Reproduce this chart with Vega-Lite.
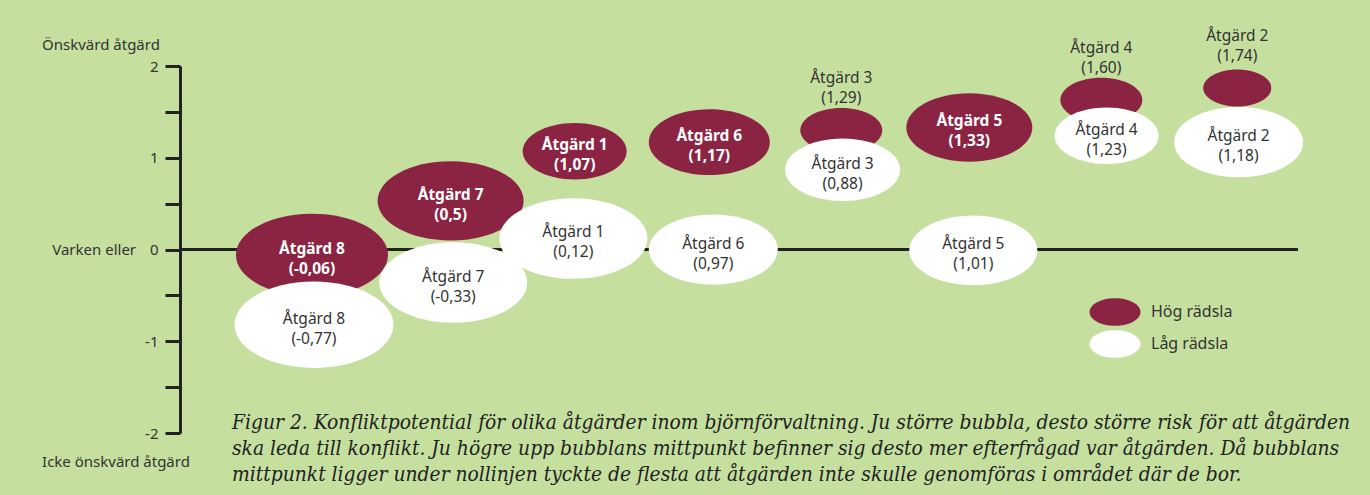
{
  "$schema": "https://vega.github.io/schema/vega-lite/v6.json",
  "width": 1118,
  "height": 367,
  "autosize": {"type": "none"},
  "padding": {"left": 180, "top": 66, "right": 72, "bottom": 62},
  "background": "#c5df9f",
  "config": {
    "view": {"stroke": null},
    "font": "Noto Sans",
    "text": {"font": "Noto Sans"}
  },
  "datasets": {
    "bubblor": [
      {"atgard": "Åtgärd 8", "grupp": "Hög rädsla", "position": 1.0, "y": -0.06, "risk": 57.8, "label": "Åtgärd 8\n(-0,06)"},
      {"atgard": "Åtgärd 7", "grupp": "Hög rädsla", "position": 2.05, "y": 0.53, "risk": 53.3, "label": "Åtgärd 7\n(0,5)"},
      {"atgard": "Åtgärd 1", "grupp": "Hög rädsla", "position": 2.99, "y": 1.07, "risk": 27.0, "label": "Åtgärd 1\n(1,07)"},
      {"atgard": "Åtgärd 6", "grupp": "Hög rädsla", "position": 4.01, "y": 1.17, "risk": 36.6, "label": "Åtgärd 6\n(1,17)"},
      {"atgard": "Åtgärd 3", "grupp": "Hög rädsla", "position": 5.01, "y": 1.30, "risk": 16.8, "label": "Åtgärd 3\n(1,29)"},
      {"atgard": "Åtgärd 5", "grupp": "Hög rädsla", "position": 5.98, "y": 1.33, "risk": 39.7, "label": "Åtgärd 5\n(1,33)"},
      {"atgard": "Åtgärd 4", "grupp": "Hög rädsla", "position": 6.98, "y": 1.63, "risk": 16.8, "label": "Åtgärd 4\n(1,60)"},
      {"atgard": "Åtgärd 2", "grupp": "Hög rädsla", "position": 8.01, "y": 1.76, "risk": 11.6, "label": "Åtgärd 2\n(1,74)"},
      {"atgard": "Åtgärd 8", "grupp": "Låg rädsla", "position": 1.015, "y": -0.82, "risk": 63.2, "label": "Åtgärd 8\n(-0,77)"},
      {"atgard": "Åtgärd 7", "grupp": "Låg rädsla", "position": 2.07, "y": -0.36, "risk": 54.8, "label": "Åtgärd 7\n(-0,33)"},
      {"atgard": "Åtgärd 1", "grupp": "Låg rädsla", "position": 2.98, "y": 0.12, "risk": 54.8, "label": "Åtgärd 1\n(0,12)"},
      {"atgard": "Åtgärd 6", "grupp": "Låg rädsla", "position": 4.04, "y": 0.0, "risk": 41.6, "label": "Åtgärd 6\n(0,97)"},
      {"atgard": "Åtgärd 3", "grupp": "Låg rädsla", "position": 5.02, "y": 0.87, "risk": 33.1, "label": "Åtgärd 3\n(0,88)"},
      {"atgard": "Åtgärd 5", "grupp": "Låg rädsla", "position": 6.01, "y": -0.01, "risk": 41.0, "label": "Åtgärd 5\n(1,01)"},
      {"atgard": "Åtgärd 4", "grupp": "Låg rädsla", "position": 7.02, "y": 1.24, "risk": 27.0, "label": "Åtgärd 4\n(1,23)"},
      {"atgard": "Åtgärd 2", "grupp": "Låg rädsla", "position": 8.02, "y": 1.17, "risk": 41.6, "label": "Åtgärd 2\n(1,18)"}
    ]
  },
  "layer": [
    {
      "data": {"values": [{"y": 0}]},
      "mark": {"type": "rule", "stroke": "#222222", "strokeWidth": 3},
      "encoding": {
        "y": {"field": "y", "type": "quantitative", "scale": {"domain": [-2, 2], "nice": false, "zero": false},
          "axis": {
            "title": null,
            "values": [-2, -1.5, -1, -0.5, 0, 0.5, 1, 1.5, 2],
            "labelExpr": "datum.value % 1 == 0 ? '' + datum.value : ''",
            "grid": false,
            "domainColor": "#222222", "domainWidth": 3,
            "tickColor": "#222222", "tickWidth": 3, "tickSize": 15,
            "labelFont": "Noto Sans", "labelFontSize": 15, "labelColor": "#333333", "labelPadding": 7
          }
        }
      }
    },
    {
      "data": {"name": "bubblor"},
      "mark": {
        "type": "point",
        "filled": true,
        "opacity": 1,
        "strokeWidth": 0,
        "shape": "M-1,0C-1,-0.3,-0.5523,-0.5435,0,-0.5435C0.5523,-0.5435,1,-0.3,1,0C1,0.3,0.5523,0.5435,0,0.5435C-0.5523,0.5435,-1,0.3,-1,0Z"
      },
      "encoding": {
        "x": {"field": "position", "type": "quantitative", "scale": {"domain": [0, 8.47], "nice": false, "zero": false}, "axis": null},
        "y": {"field": "y", "type": "quantitative"},
        "size": {"field": "risk", "type": "quantitative", "scale": {"type": "linear", "domain": [0, 100], "range": [0, 40000]}, "legend": null},
        "color": {
          "field": "grupp", "type": "nominal",
          "scale": {"domain": ["Hög rädsla", "Låg rädsla"], "range": ["#8b2343", "#ffffff"]},
          "legend": {
            "title": null,
            "orient": "none",
            "legendX": 919,
            "legendY": 230,
            "padding": 0,
            "symbolType": "M-1.6,0C-1.6,-0.48,-0.8837,-0.8696,0,-0.8696C0.8837,-0.8696,1.6,-0.48,1.6,0C1.6,0.48,0.8837,0.8696,0,0.8696C-0.8837,0.8696,-1.6,0.48,-1.6,0Z",
            "symbolSize": 1016,
            "symbolStrokeWidth": 0,
            "symbolOpacity": 1,
            "rowPadding": 2,
            "labelOffset": 20,
            "labelFont": "Noto Sans",
            "labelFontSize": 16,
            "labelColor": "#333333"
          }
        }
      }
    },
    {
      "data": {"name": "bubblor"},
      "transform": [{"filter": "datum.grupp == 'Hög rädsla' && datum.risk >= 20"}],
      "mark": {"type": "text", "lineBreak": "\n", "align": "center", "baseline": "middle", "fontSize": 15.5, "fontWeight": "bold", "lineHeight": 20, "fill": "#ffffff", "dy": -6},
      "encoding": {
        "x": {"field": "position", "type": "quantitative"},
        "y": {"field": "y", "type": "quantitative"},
        "text": {"field": "label"}
      }
    },
    {
      "data": {"name": "bubblor"},
      "transform": [{"filter": "datum.grupp == 'Låg rädsla'"}],
      "mark": {"type": "text", "lineBreak": "\n", "align": "center", "baseline": "middle", "fontSize": 15.5, "lineHeight": 20, "fill": "#333333", "dy": -6},
      "encoding": {
        "x": {"field": "position", "type": "quantitative"},
        "y": {"field": "y", "type": "quantitative"},
        "text": {"field": "label"}
      }
    },
    {
      "data": {"name": "bubblor"},
      "transform": [{"filter": "datum.grupp == 'Hög rädsla' && datum.risk < 20"}],
      "mark": {"type": "text", "lineBreak": "\n", "align": "center", "baseline": "middle", "fontSize": 15.5, "lineHeight": 20, "fill": "#333333", "dy": -52},
      "encoding": {
        "x": {"field": "position", "type": "quantitative"},
        "y": {"field": "y", "type": "quantitative"},
        "text": {"field": "label"}
      }
    },
    {
      "data": {"values": [
        {"text": "Önskvärd åtgärd", "x": -1.045, "y": 2.23},
        {"text": "Icke önskvärd åtgärd", "x": -1.045, "y": -2.316}
      ]},
      "mark": {"type": "text", "align": "left", "baseline": "middle", "fontSize": 15, "fill": "#333333"},
      "encoding": {
        "x": {"field": "x", "type": "quantitative"},
        "y": {"field": "y", "type": "quantitative"},
        "text": {"field": "text"}
      }
    },
    {
      "data": {"values": [{"text": "Varken eller", "x": -0.333, "y": 0}]},
      "mark": {"type": "text", "align": "right", "baseline": "middle", "fontSize": 15, "fill": "#333333"},
      "encoding": {
        "x": {"field": "x", "type": "quantitative"},
        "y": {"field": "y", "type": "quantitative"},
        "text": {"field": "text"}
      }
    },
    {
      "data": {"values": [{"text": "Figur 2. Konfliktpotential för olika åtgärder inom björnförvaltning. Ju större bubbla, desto större risk för att åtgärden\nska leda till konflikt. Ju högre upp bubblans mittpunkt befinner sig desto mer efterfrågad var åtgärden. Då  bubblans\nmittpunkt ligger under nollinjen tyckte de flesta att åtgärden inte skulle genomföras i området där de bor.", "x": 0.394, "y": -1.89}]},
      "mark": {"type": "text", "lineBreak": "\n", "align": "left", "baseline": "middle", "font": "DejaVu Serif Condensed", "fontStyle": "italic", "fontSize": 20.8, "lineHeight": 25.8, "fill": "#222222"},
      "encoding": {
        "x": {"field": "x", "type": "quantitative"},
        "y": {"field": "y", "type": "quantitative"},
        "text": {"field": "text"}
      }
    }
  ]
}
